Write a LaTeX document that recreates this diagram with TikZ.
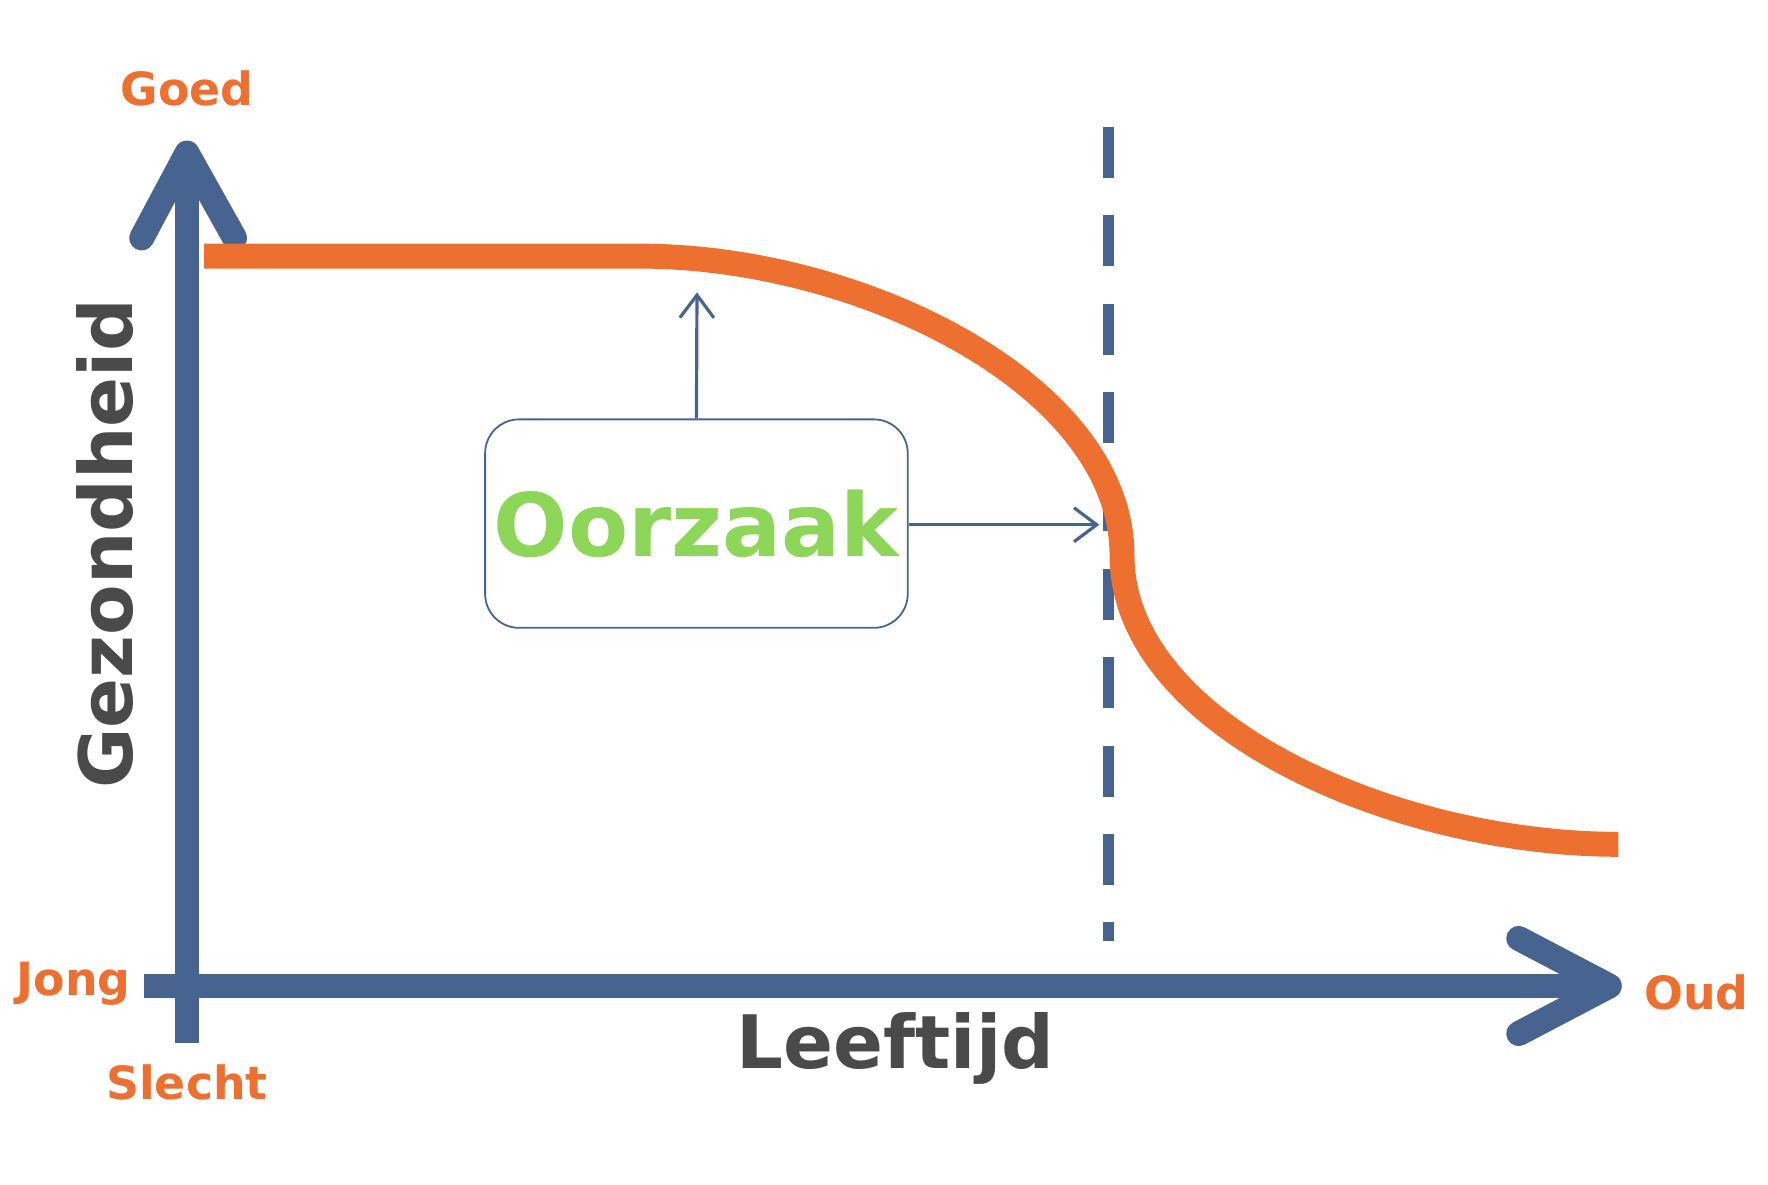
\documentclass[tikz,border=0pt]{standalone}
\usepackage{fontspec}
\setmainfont{DejaVu Sans}
\usetikzlibrary{arrows.meta}
\definecolor{axblue}{HTML}{47638F}
\definecolor{curveor}{HTML}{ED7031}
\definecolor{labgreen}{HTML}{8ED65A}
\definecolor{labgray}{HTML}{4A4A4A}
\tikzset{
  axis/.style={axblue,line width=0.44cm,line cap=round,line join=round},
  lab/.style={curveor,font=\bfseries\fontsize{23}{26}\selectfont},
  big/.style={labgray,font=\bfseries\fontsize{37}{40}\selectfont},
  thinarrow/.style={axblue,line width=1.6pt,-{Straight Barb[length=4mm,width=6mm,line width=1.6pt]}}
}
\begin{document}
\begin{tikzpicture}[x=0.02cm,y=-0.02cm]
\useasboundingbox (0,0) rectangle (1560,1045);
% axes
\draw[axblue,line width=0.44cm] (165,920) -- (165,140);
\draw[axis] (125,210) -- (165,135) -- (207,210);
\draw[axblue,line width=0.44cm] (127,870) -- (1410,870);
\draw[axis] (1340,828) -- (1420,870) -- (1340,912);
% dashed line
\draw[axblue,line width=0.2cm,dash pattern=on 0.9cm off 0.66cm] (978,112) -- (978,830);
% curve
\draw[curveor,line width=0.44cm] (180,226) -- (565,226)
  .. controls (760,226) and (990,340) .. (990,490)
  .. controls (990,640) and (1230,745) .. (1428,745);
% box
\node[draw=axblue,line width=0.9pt,rounded corners=0.6cm,fill=white,inner sep=0pt,
  minimum width=7.46cm,minimum height=3.68cm,text=labgreen,
  font=\bfseries\fontsize{44}{48}\selectfont] (box) at (614.5,462) {Oorzaak};
\coordinate (up) at (615,258);
\coordinate (rt) at (970,463);
\draw[thinarrow] (box.north) -- (up);
\draw[thinarrow] (box.east |- rt) -- (rt);
% labels
\node[lab] (goed) at (165,78) {Goed};
\node[lab] (jong) at (65,868) {Jong};
\node[lab] (slecht) at (165,955) {Slecht};
\node[lab] (oud) at (1497,876) {Oud};
\node[big] (leef) at (790,925) {Leeftijd};
\node[big,rotate=90] (gez) at (93,480) {Gezondheid};
\end{tikzpicture}
\end{document}
